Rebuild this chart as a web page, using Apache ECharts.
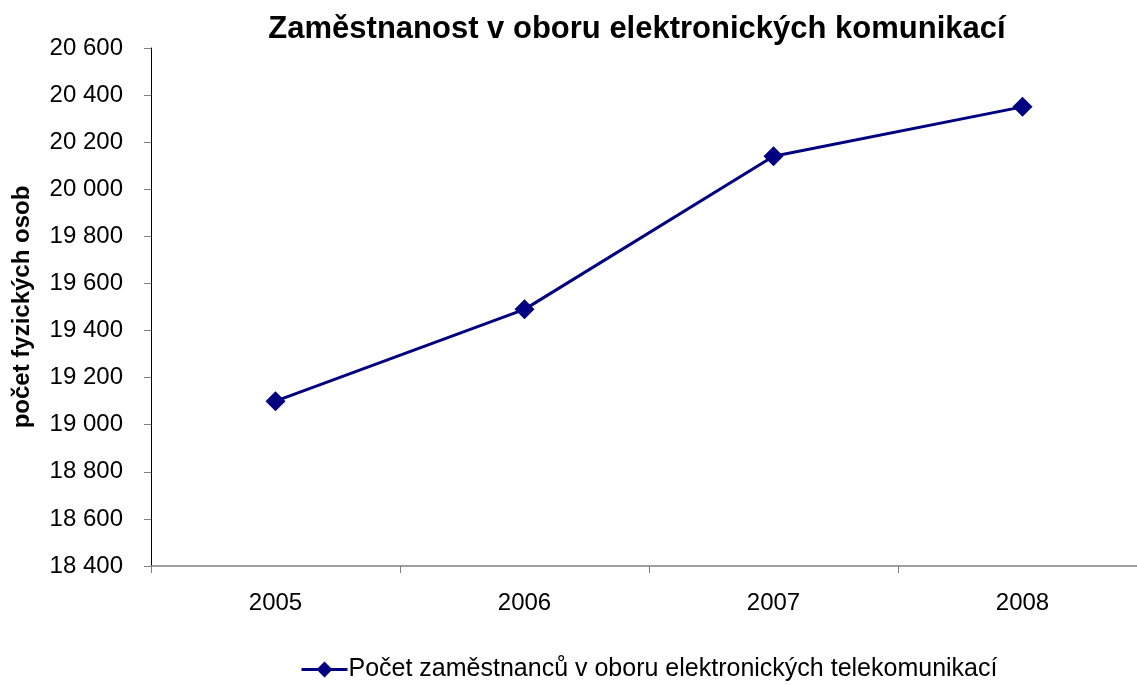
<!DOCTYPE html>
<html><head><meta charset="utf-8">
<script src="https://cdn.jsdelivr.net/npm/echarts@6/dist/echarts.min.js"></script>
<style>html,body{margin:0;padding:0;background:#fff}#c{width:1137px;height:685px}</style>
</head><body><div id="c"></div>
<script>
const categories = ['2005','2006','2007','2008'];
const values = [19100, 19490, 20140, 20350];
const seriesName = 'Počet zaměstnanců v oboru elektronických telekomunikací';
const titleText = 'Zaměstnanost v oboru elektronických komunikací';
const yName = 'počet fyzických osob';
const FONT = '"Liberation Sans", Arial, sans-serif';
const chart = echarts.init(document.getElementById('c'));
chart.setOption({
  backgroundColor: '#fff',
  animation: false,
  title: {text: titleText, left: 632, textAlign: 'center', top: 9,
    textStyle: {fontFamily: FONT, fontSize: 31, fontWeight: 'bold', color: '#000'}},
  grid: {left: 151, width: 996, top: 48, height: 518, outerBoundsMode: 'none', containLabel: false},
  legend: {left: 295, top: 652, itemWidth: 46, itemHeight: 20, itemGap: 2,
    lineStyle: {width: 3},
    textStyle: {fontFamily: FONT, fontSize: 25, color: '#000', padding: [0,0,0,-4]},
    data: [seriesName]},
  xAxis: {type: 'category', data: categories, boundaryGap: true,
    axisLine: {lineStyle: {color: '#808080', width: 1.5}},
    axisTick: {show: true, length: 7, lineStyle: {color: '#808080'}},
    axisLabel: {margin: 25, fontFamily: FONT, fontSize: 24, color: '#000'},
    splitLine: {show: false}},
  yAxis: {type: 'value', min: 18400, max: 20600, interval: 200,
    name: yName, nameLocation: 'middle', nameGap: 117, nameRotate: 90,
    nameTextStyle: {fontFamily: FONT, fontSize: 24, fontWeight: 'bold', color: '#000'},
    axisLine: {show: true, lineStyle: {color: '#000', width: 1}},
    axisTick: {show: true, length: 7, lineStyle: {color: '#808080'}},
    axisLabel: {margin: 28, fontFamily: FONT, fontSize: 24, color: '#000',
      formatter: v => String(v).replace(/\B(?=(\d{3})+(?!\d))/g, ' ')},
    splitLine: {show: false}},
  series: [{name: seriesName, type: 'line', data: values,
    symbol: 'diamond', symbolSize: 20,
    lineStyle: {color: '#000080', width: 3},
    itemStyle: {color: '#000080'}}]
});
</script></body></html>
